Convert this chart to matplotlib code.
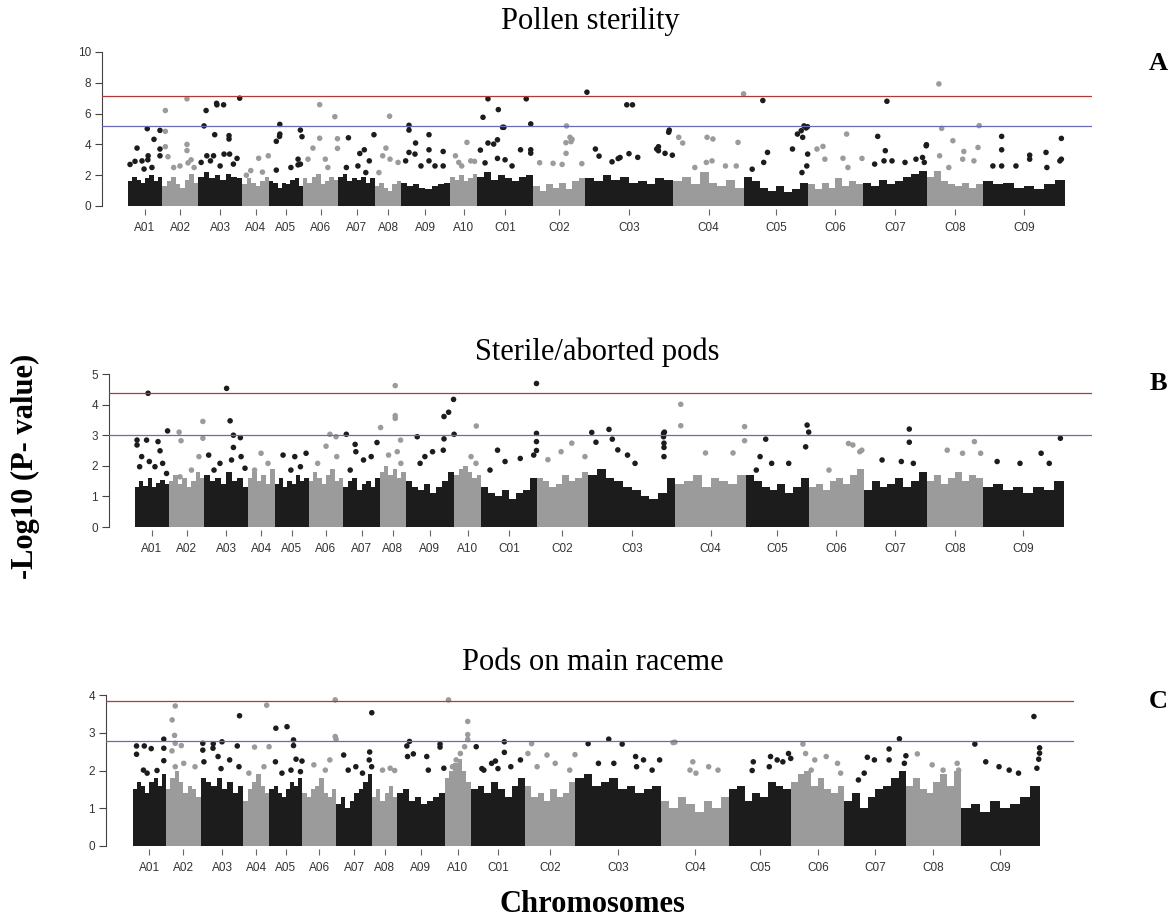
import matplotlib
matplotlib.use('Agg')
import matplotlib.pyplot as plt
import numpy as np

# Brassica napus chromosomes and their lengths (Mb)
chroms = ['A01', 'A02', 'A03', 'A04', 'A05', 'A06', 'A07', 'A08', 'A09', 'A10',
          'C01', 'C02', 'C03', 'C04', 'C05', 'C06', 'C07', 'C08', 'C09']
chrom_len = [23.3, 24.7, 30.1, 18.5, 23.3, 24.0, 25.3, 17.8, 33.6, 18.5,
             38.4, 35.6, 60.3, 48.6, 43.8, 37.7, 43.8, 38.4, 56.2]

# upper edge of the dense SNP cloud, several windows per chromosome
band_pollen = [
    [1.6, 1.9, 1.7, 1.5, 1.8, 2.0, 1.6, 1.9], [1.3, 1.6, 1.9, 1.4, 1.2, 1.7, 2.1, 1.5],
    [1.9, 2.2, 1.8, 2.0, 1.7, 2.1, 1.9, 1.8], [1.4, 1.8, 1.5, 1.3, 1.6, 1.9],
    [1.6, 1.5, 1.2, 1.5, 1.4, 1.7, 1.8, 1.3], [1.8, 1.5, 1.9, 2.1, 1.4, 1.6, 1.9, 1.7],
    [1.9, 2.1, 1.6, 1.8, 1.7, 1.9, 1.5, 1.8], [1.3, 1.5, 1.2, 1.0, 1.4, 1.6],
    [1.5, 1.3, 1.4, 1.2, 1.1, 1.3, 1.4, 1.5], [1.9, 1.7, 2.0, 1.6, 1.8, 2.1],
    [1.9, 2.2, 1.7, 2.0, 1.8, 1.6, 1.9, 2.0], [1.3, 1.0, 1.4, 1.2, 1.5, 1.1, 1.6, 1.8],
    [1.8, 1.6, 2.0, 1.7, 1.9, 1.5, 1.6, 1.4, 1.8, 1.7], [1.6, 1.9, 1.4, 2.2, 1.5, 1.3, 1.7, 1.2],
    [1.9, 1.6, 1.2, 1.0, 1.3, 0.9, 1.1, 1.5], [1.4, 1.1, 1.5, 1.2, 1.8, 1.3, 1.6, 1.4],
    [1.5, 1.3, 1.7, 1.4, 1.6, 1.9, 2.1, 2.3], [1.9, 2.3, 1.6, 1.4, 1.3, 1.5, 1.2, 1.4],
    [1.6, 1.4, 1.5, 1.2, 1.3, 1.1, 1.4, 1.7],
]
band_aborted = [
    [1.3, 1.5, 1.35, 1.6, 1.3, 1.45, 1.55, 1.4], [1.5, 1.7, 1.4, 1.6, 1.3, 1.5, 1.8, 1.6],
    [1.7, 1.5, 1.6, 1.4, 1.8, 1.5, 1.6, 1.3], [1.6, 1.8, 1.5, 1.7, 1.4, 1.9],
    [1.4, 1.6, 1.3, 1.5, 1.4, 1.7, 1.5, 1.6], [1.5, 1.8, 1.6, 1.4, 1.7, 1.9, 1.5, 1.6],
    [1.3, 1.5, 1.6, 1.2, 1.4, 1.5, 1.3, 1.6], [1.8, 2.0, 1.7, 1.9, 1.6, 1.8],
    [1.5, 1.3, 1.2, 1.4, 1.1, 1.3, 1.5, 1.8], [1.7, 1.9, 2.0, 1.8, 1.6, 1.7],
    [1.3, 1.1, 1.0, 1.2, 0.9, 1.1, 1.2, 1.6], [1.6, 1.5, 1.3, 1.4, 1.7, 1.5, 1.6, 1.8],
    [1.7, 1.9, 1.6, 1.5, 1.3, 1.2, 1.0, 0.9, 1.1, 1.6], [1.4, 1.5, 1.7, 1.3, 1.6, 1.5, 1.4, 1.7],
    [1.7, 1.5, 1.3, 1.2, 1.4, 1.1, 1.3, 1.6], [1.3, 1.4, 1.2, 1.5, 1.6, 1.4, 1.7, 1.9],
    [1.2, 1.5, 1.3, 1.4, 1.6, 1.3, 1.5, 1.8], [1.5, 1.7, 1.4, 1.6, 1.8, 1.5, 1.7, 1.6],
    [1.3, 1.4, 1.2, 1.3, 1.1, 1.3, 1.2, 1.5],
]
band_raceme = [
    [1.5, 1.7, 1.6, 1.4, 1.7, 1.8, 1.6, 1.9], [1.5, 1.8, 2.0, 1.7, 1.4, 1.6, 1.5, 1.3],
    [1.8, 1.7, 1.6, 1.8, 1.5, 1.7, 1.4, 1.6], [1.2, 1.5, 1.7, 1.9, 1.6, 1.4],
    [1.5, 1.6, 1.4, 1.3, 1.5, 1.7, 1.6, 1.8], [1.4, 1.3, 1.5, 1.6, 1.8, 1.4, 1.3, 1.5],
    [1.1, 1.3, 1.0, 1.2, 1.4, 1.5, 1.7, 1.9], [1.3, 1.5, 1.2, 1.4, 1.6, 1.3],
    [1.4, 1.5, 1.2, 1.3, 1.1, 1.2, 1.3, 1.4], [1.8, 2.0, 2.2, 2.3, 2.0, 1.7],
    [1.5, 1.6, 1.4, 1.7, 1.5, 1.3, 1.6, 1.8], [1.6, 1.3, 1.4, 1.2, 1.5, 1.3, 1.4, 1.7],
    [1.8, 1.9, 1.6, 1.7, 1.8, 1.5, 1.6, 1.4, 1.5, 1.6], [1.2, 1.0, 1.3, 1.1, 0.9, 1.2, 1.0, 1.3],
    [1.5, 1.6, 1.2, 1.4, 1.3, 1.7, 1.6, 1.5], [1.7, 1.9, 2.0, 1.6, 1.8, 1.5, 1.4, 1.6],
    [1.2, 1.4, 1.0, 1.3, 1.5, 1.6, 1.8, 2.0], [1.6, 1.8, 1.5, 1.4, 1.7, 1.9, 1.6, 2.0],
    [1.0, 1.1, 0.9, 1.2, 1.0, 1.1, 1.3, 1.6],
]

# SNPs standing out above the cloud: (chromosome, position Mb, -log10 p)
hits_pollen = [
    ('A01', 1.4, 2.7), ('A01', 4.8, 2.9), ('A01', 6.2, 3.76), ('A01', 9.6, 2.93), ('A01', 11.0, 2.4),
    ('A01', 13.2, 5.02), ('A01', 13.6, 3.0), ('A01', 13.8, 3.26), ('A01', 16.4, 2.5), ('A01', 17.8, 4.33),
    ('A01', 21.9, 4.91), ('A01', 21.9, 3.7), ('A01', 21.9, 3.26),
    ('A02', 2.3, 6.2), ('A02', 2.3, 4.85), ('A02', 2.3, 3.85), ('A02', 4.1, 3.2), ('A02', 8.0, 2.5),
    ('A02', 12.3, 2.6), ('A02', 17.1, 6.96), ('A02', 17.1, 4.0), ('A02', 17.1, 3.6), ('A02', 17.8, 2.8),
    ('A02', 19.9, 3.0), ('A02', 22.0, 2.5),
    ('A03', 2.1, 2.83), ('A03', 4.1, 5.2), ('A03', 5.5, 6.2), ('A03', 6.0, 3.26), ('A03', 8.5, 2.93),
    ('A03', 10.6, 3.26), ('A03', 11.4, 4.63), ('A03', 12.7, 6.67), ('A03', 12.9, 6.57), ('A03', 15.1, 2.6),
    ('A03', 17.5, 6.57), ('A03', 17.8, 3.37), ('A03', 21.2, 4.57), ('A03', 21.2, 4.35), ('A03', 21.6, 3.37),
    ('A03', 24.2, 2.72), ('A03', 26.7, 3.09), ('A03', 28.5, 7.0),
    ('A04', 3.0, 2.0), ('A04', 6.0, 2.3), ('A04', 11.4, 3.1), ('A04', 14.0, 2.2), ('A04', 18.0, 3.26),
    ('A05', 5.0, 4.2), ('A05', 5.0, 2.33), ('A05', 7.2, 4.52), ('A05', 7.4, 4.67), ('A05', 7.4, 5.3),
    ('A05', 15.0, 2.5), ('A05', 19.9, 3.04), ('A05', 19.9, 2.67), ('A05', 21.5, 4.93), ('A05', 21.5, 2.72),
    ('A05', 22.6, 4.5),
    ('A06', 3.4, 3.04), ('A06', 6.8, 3.76), ('A06', 11.4, 6.58), ('A06', 11.4, 4.4), ('A06', 15.3, 3.04),
    ('A06', 17.0, 2.5), ('A06', 21.8, 5.8), ('A06', 23.6, 4.37), ('A06', 23.6, 3.74),
    ('A07', 5.7, 2.5), ('A07', 7.1, 4.43), ('A07', 13.6, 2.6), ('A07', 14.9, 3.41), ('A07', 18.0, 3.65),
    ('A07', 19.0, 2.17), ('A07', 21.4, 2.93), ('A07', 24.6, 4.63),
    ('A08', 2.7, 2.17), ('A08', 5.3, 3.26), ('A08', 7.5, 3.76), ('A08', 10.0, 5.83), ('A08', 10.3, 3.04),
    ('A08', 15.8, 2.83),
    ('A09', 3.2, 2.93), ('A09', 5.5, 5.24), ('A09', 5.5, 4.93), ('A09', 5.5, 3.48), ('A09', 9.6, 3.37),
    ('A09', 10.0, 4.09), ('A09', 13.7, 2.6), ('A09', 19.2, 4.63), ('A09', 19.2, 3.65), ('A09', 19.2, 2.93),
    ('A09', 23.3, 2.6), ('A09', 28.9, 3.54), ('A09', 28.9, 2.6),
    ('A10', 3.7, 3.26), ('A10', 6.0, 2.83), ('A10', 8.0, 2.6), ('A10', 11.6, 4.13), ('A10', 14.2, 2.93),
    ('A10', 16.8, 2.9),
    ('C01', 2.3, 3.63), ('C01', 4.1, 5.76), ('C01', 5.5, 2.8), ('C01', 7.5, 6.96), ('C01', 7.5, 4.09),
    ('C01', 11.4, 4.02), ('C01', 14.0, 4.3), ('C01', 14.0, 3.09), ('C01', 14.6, 6.26), ('C01', 17.5, 5.11),
    ('C01', 18.4, 5.11), ('C01', 19.2, 3.0), ('C01', 24.0, 2.6), ('C01', 29.8, 3.65), ('C01', 33.7, 6.96),
    ('C01', 36.8, 5.33), ('C01', 36.8, 3.65), ('C01', 36.8, 3.43),
    ('C02', 4.5, 2.81), ('C02', 13.7, 2.77), ('C02', 19.9, 2.7), ('C02', 22.6, 3.42), ('C02', 22.9, 5.2),
    ('C02', 22.5, 4.11), ('C02', 25.3, 4.46), ('C02', 26.0, 4.18), ('C02', 26.7, 4.33), ('C02', 33.4, 2.75),
    ('C03', 1.3, 7.39), ('C03', 7.1, 3.7), ('C03', 9.6, 3.24), ('C03', 18.5, 2.87), ('C03', 22.7, 3.08),
    ('C03', 24.0, 3.15), ('C03', 28.6, 6.57), ('C03', 30.1, 3.4), ('C03', 32.5, 6.57), ('C03', 36.1, 3.16),
    ('C03', 49.1, 3.7), ('C03', 50.3, 3.85), ('C03', 50.3, 3.59), ('C03', 54.8, 3.42), ('C03', 57.3, 4.79),
    ('C03', 57.7, 4.93), ('C03', 59.8, 3.3),
    ('C04', 3.9, 4.46), ('C04', 6.6, 4.09), ('C04', 14.9, 2.5), ('C04', 22.8, 2.83), ('C04', 23.3, 4.46),
    ('C04', 26.7, 2.93), ('C04', 27.3, 4.35), ('C04', 35.9, 2.6), ('C04', 43.3, 2.6), ('C04', 44.5, 4.13),
    ('C04', 48.3, 7.28),
    ('C05', 5.6, 2.39), ('C05', 12.9, 6.85), ('C05', 13.5, 2.83), ('C05', 16.1, 3.48), ('C05', 33.2, 3.7),
    ('C05', 36.6, 4.67), ('C05', 39.2, 4.89), ('C05', 39.7, 2.17), ('C05', 40.2, 4.46), ('C05', 41.1, 5.2),
    ('C05', 42.5, 5.07), ('C05', 43.0, 2.6), ('C05', 43.5, 5.15), ('C05', 43.6, 3.37),
    ('C06', 6.2, 3.7), ('C06', 10.3, 3.87), ('C06', 11.6, 3.04), ('C06', 24.0, 3.1), ('C06', 26.5, 4.67),
    ('C06', 27.4, 2.5), ('C06', 37.0, 3.09),
    ('C07', 8.0, 2.72), ('C07', 10.1, 4.52), ('C07', 14.4, 2.93), ('C07', 15.3, 3.59), ('C07', 16.4, 6.8),
    ('C07', 19.9, 2.93), ('C07', 28.8, 2.83), ('C07', 36.3, 3.04), ('C07', 40.8, 3.15), ('C07', 42.0, 2.83),
    ('C07', 43.3, 3.91), ('C07', 43.5, 3.98),
    ('C08', 8.2, 7.93), ('C08', 8.7, 3.26), ('C08', 10.1, 5.04), ('C08', 15.0, 2.5), ('C08', 17.8, 4.24),
    ('C08', 24.5, 3.04), ('C08', 25.3, 3.54), ('C08', 32.2, 2.93), ('C08', 35.0, 3.8), ('C08', 35.8, 5.22),
    ('C09', 6.8, 2.6), ('C09', 12.8, 4.52), ('C09', 12.8, 3.65), ('C09', 12.8, 2.6), ('C09', 22.6, 2.6),
    ('C09', 32.0, 3.3), ('C09', 32.0, 3.04), ('C09', 43.2, 3.48), ('C09', 43.8, 2.5), ('C09', 52.7, 2.93),
    ('C09', 53.7, 4.39), ('C09', 53.7, 3.04),
]
hits_aborted = [
    ('A01', 1.4, 2.84), ('A01', 1.4, 2.68), ('A01', 3.2, 1.97), ('A01', 4.6, 2.3), ('A01', 8.0, 2.84),
    ('A01', 9.05, 4.37), ('A01', 9.9, 2.14), ('A01', 13.8, 1.97), ('A01', 15.9, 2.79), ('A01', 17.3, 2.49),
    ('A01', 19.1, 2.08), ('A01', 21.8, 1.75), ('A01', 22.5, 3.14),
    ('A02', 7.2, 3.1), ('A02', 7.8, 1.64), ('A02', 8.5, 2.82), ('A02', 15.7, 1.86), ('A02', 20.9, 2.3),
    ('A02', 23.6, 3.45), ('A02', 23.6, 2.9),
    ('A03', 2.9, 2.35), ('A03', 6.6, 1.86), ('A03', 10.7, 2.08), ('A03', 15.3, 4.53), ('A03', 17.7, 3.47),
    ('A03', 18.7, 2.19), ('A03', 20.0, 3.0), ('A03', 20.0, 2.6), ('A03', 24.8, 2.92), ('A03', 25.3, 2.3),
    ('A03', 28.0, 1.92),
    ('A04', 4.5, 1.86), ('A04', 9.0, 2.41), ('A04', 13.8, 2.08),
    ('A05', 5.7, 2.35), ('A05', 11.1, 1.86), ('A05', 13.8, 2.3), ('A05', 17.7, 1.97), ('A05', 21.6, 2.41),
    ('A06', 6.3, 2.08), ('A06', 12.1, 2.64), ('A06', 14.8, 3.03), ('A06', 19.0, 2.95), ('A06', 19.5, 2.3),
    ('A07', 2.1, 3.03), ('A07', 4.8, 1.86), ('A07', 8.2, 2.7), ('A07', 8.7, 2.46), ('A07', 14.0, 2.19),
    ('A07', 19.3, 2.3), ('A07', 23.3, 2.76),
    ('A08', 0.5, 3.25), ('A08', 6.0, 2.35), ('A08', 10.6, 4.62), ('A08', 10.6, 3.64), ('A08', 10.6, 3.55),
    ('A08', 12.0, 2.46), ('A08', 14.3, 2.84), ('A08', 14.5, 2.08),
    ('A09', 8.0, 2.95), ('A09', 10.0, 2.08), ('A09', 13.3, 2.3), ('A09', 18.6, 2.46), ('A09', 26.0, 2.51),
    ('A09', 26.5, 3.61), ('A09', 26.5, 2.88), ('A09', 29.7, 3.75), ('A09', 33.1, 4.17), ('A09', 33.5, 3.03),
    ('A10', 11.6, 2.3), ('A10', 15.0, 2.08), ('A10', 15.2, 3.3),
    ('C01', 6.2, 1.86), ('C01', 11.4, 2.51), ('C01', 16.6, 2.14), ('C01', 27.1, 2.24), ('C01', 36.4, 2.35),
    ('C01', 38.3, 4.69), ('C01', 38.3, 3.06), ('C01', 38.3, 2.79), ('C01', 38.3, 2.5),
    ('C02', 7.8, 2.2), ('C02', 16.9, 2.46), ('C02', 24.3, 2.74), ('C02', 33.4, 2.3),
    ('C03', 2.5, 3.09), ('C03', 5.4, 2.77), ('C03', 14.4, 3.19), ('C03', 16.7, 2.87), ('C03', 20.5, 2.52),
    ('C03', 27.2, 2.35), ('C03', 32.4, 2.08), ('C03', 52.1, 3.06), ('C03', 52.1, 2.95), ('C03', 52.4, 2.74),
    ('C03', 52.4, 2.6), ('C03', 52.4, 2.3), ('C03', 52.7, 3.1),
    ('C04', 3.7, 4.01), ('C04', 3.7, 3.31), ('C04', 20.8, 2.42), ('C04', 39.8, 2.42), ('C04', 47.8, 3.28),
    ('C04', 47.8, 2.82),
    ('C05', 7.3, 1.86), ('C05', 9.9, 2.3), ('C05', 13.8, 2.87), ('C05', 17.9, 2.08), ('C05', 29.7, 2.08),
    ('C05', 41.4, 2.62), ('C05', 42.4, 3.33), ('C05', 43.5, 3.1),
    ('C06', 13.7, 1.86), ('C06', 27.2, 2.73), ('C06', 30.2, 2.68), ('C06', 35.0, 2.46), ('C06', 36.4, 2.51),
    ('C07', 12.7, 2.19), ('C07', 26.0, 2.14), ('C07', 31.5, 3.2), ('C07', 31.5, 2.77), ('C07', 34.3, 2.08),
    ('C08', 13.9, 2.51), ('C08', 24.5, 2.41), ('C08', 32.7, 2.79), ('C08', 37.0, 2.41),
    ('C09', 10.0, 2.14), ('C09', 25.8, 2.08), ('C09', 40.4, 2.41), ('C09', 46.0, 2.08), ('C09', 53.7, 2.9),
]
hits_raceme = [
    ('A01', 2.5, 2.65), ('A01', 2.5, 2.43), ('A01', 7.4, 2.01), ('A01', 8.0, 2.65), ('A01', 10.0, 1.93),
    ('A01', 12.9, 2.58), ('A01', 17.0, 2.0), ('A01', 21.8, 2.83), ('A01', 21.8, 2.59), ('A01', 21.8, 2.26),
    ('A02', 4.3, 2.52), ('A02', 4.4, 3.34), ('A02', 6.1, 2.93), ('A02', 6.6, 3.71), ('A02', 6.6, 2.72),
    ('A02', 6.6, 2.1), ('A02', 10.9, 2.66), ('A02', 12.6, 2.19), ('A02', 20.6, 2.1),
    ('A03', 1.4, 2.72), ('A03', 1.4, 2.54), ('A03', 2.2, 2.23), ('A03', 8.6, 2.59), ('A03', 8.8, 2.71),
    ('A03', 12.2, 2.37), ('A03', 14.3, 2.05), ('A03', 15.0, 2.76), ('A03', 20.4, 2.28), ('A03', 25.8, 2.65),
    ('A03', 27.0, 2.1), ('A03', 27.4, 3.45),
    ('A04', 3.9, 1.93), ('A04', 7.9, 2.62), ('A04', 14.6, 2.1), ('A04', 16.5, 3.73), ('A04', 18.2, 2.63),
    ('A05', 4.2, 2.23), ('A05', 4.5, 3.12), ('A05', 8.8, 1.93), ('A05', 12.4, 3.16), ('A05', 15.2, 2.01),
    ('A05', 17.0, 2.81), ('A05', 17.0, 2.66), ('A05', 18.8, 2.3), ('A05', 21.9, 1.97), ('A05', 23.0, 2.25),
    ('A06', 8.1, 2.15), ('A06', 16.2, 2.01), ('A06', 19.4, 2.28), ('A06', 23.2, 3.87), ('A06', 23.2, 2.9),
    ('A06', 23.8, 2.83),
    ('A07', 5.2, 2.41), ('A07', 8.4, 2.01), ('A07', 13.8, 2.1), ('A07', 18.5, 1.93), ('A07', 23.3, 2.28),
    ('A07', 23.6, 2.49), ('A07', 25.0, 2.1), ('A07', 25.1, 3.53),
    ('A08', 7.4, 2.01), ('A08', 12.8, 2.06), ('A08', 16.0, 2.0),
    ('A09', 6.8, 2.65), ('A09', 7.3, 2.37), ('A09', 8.7, 2.77), ('A09', 11.4, 2.44), ('A09', 20.9, 2.37),
    ('A09', 22.0, 2.01), ('A09', 30.3, 2.7), ('A09', 30.3, 2.62), ('A09', 33.0, 2.06),
    ('A10', 2.7, 3.87), ('A10', 5.5, 2.1), ('A10', 8.1, 2.28), ('A10', 11.1, 2.45), ('A10', 14.1, 2.63),
    ('A10', 16.3, 3.3), ('A10', 16.3, 2.95), ('A10', 16.3, 2.82),
    ('C01', 3.8, 2.63), ('C01', 7.8, 2.05), ('C01', 9.2, 2.01), ('C01', 14.7, 2.19), ('C01', 17.4, 2.25),
    ('C01', 19.2, 2.05), ('C01', 23.7, 2.76), ('C01', 23.7, 2.48), ('C01', 28.3, 2.1), ('C01', 35.1, 2.28),
    ('C02', 2.0, 2.45), ('C02', 4.6, 2.71), ('C02', 8.5, 2.1), ('C02', 15.5, 2.41), ('C02', 21.3, 2.19),
    ('C02', 31.6, 2.01), ('C02', 35.3, 2.42),
    ('C03', 9.0, 2.71), ('C03', 16.3, 2.19), ('C03', 23.6, 2.83), ('C03', 27.2, 2.19), ('C03', 33.1, 2.7),
    ('C03', 42.6, 2.37), ('C03', 43.3, 2.1), ('C03', 48.2, 2.28), ('C03', 54.3, 2.01), ('C03', 59.6, 2.28),
    ('C04', 8.8, 2.74), ('C04', 10.1, 2.75), ('C04', 20.8, 2.01), ('C04', 22.8, 2.23), ('C04', 25.0, 1.93),
    ('C04', 34.0, 2.1), ('C04', 40.6, 2.01),
    ('C05', 16.2, 2.0), ('C05', 17.0, 2.23), ('C05', 28.3, 2.1), ('C05', 29.2, 2.37), ('C05', 33.9, 2.28),
    ('C05', 37.9, 2.23), ('C05', 41.9, 2.45), ('C05', 43.5, 2.32),
    ('C06', 8.3, 2.7), ('C06', 10.2, 2.45), ('C06', 14.2, 2.01), ('C06', 16.7, 2.28), ('C06', 24.8, 2.37),
    ('C06', 32.8, 2.19), ('C06', 35.0, 1.93),
    ('C07', 9.9, 1.75), ('C07', 14.0, 1.93), ('C07', 16.2, 2.35), ('C07', 21.2, 2.28), ('C07', 31.6, 2.57),
    ('C07', 31.6, 2.28), ('C07', 38.9, 2.84), ('C07', 42.4, 2.19), ('C07', 43.5, 2.39),
    ('C08', 7.8, 2.44), ('C08', 18.3, 2.15), ('C08', 26.0, 2.01), ('C08', 36.0, 2.19), ('C08', 37.0, 2.01),
    ('C09', 10.1, 2.7), ('C09', 17.8, 2.23), ('C09', 27.2, 2.1), ('C09', 34.4, 2.01), ('C09', 41.0, 1.93),
    ('C09', 51.9, 3.43), ('C09', 54.0, 2.06), ('C09', 55.3, 2.3), ('C09', 55.9, 2.6), ('C09', 55.9, 2.46),
]

# (upper, lower) significance thresholds
thr_pollen = (7.17, 5.2)
thr_aborted = (4.37, 3.0)
thr_raceme = (3.85, 2.77)

DARK = '#1c1c1c'
LIGHT = '#9b9b9b'
W, H = 1172, 923

serif = ['Liberation Serif', 'DejaVu Serif']
plt.rcParams['font.family'] = ['Liberation Sans', 'DejaVu Sans']

fig = plt.figure(figsize=(W / 100, H / 100), dpi=100)

offsets = np.concatenate([[0.0], np.cumsum(chrom_len)[:-1]])
total = float(np.sum(chrom_len))
chrom_idx = {c: i for i, c in enumerate(chroms)}


def manhattan(frame, ymax, band, hits, thr):
    # frame: y-axis x, first/last SNP x, right edge, y of 0, y of ymax (pixels)
    spine_x, data_l, data_r, right_x, y0, ytop = frame
    ppm = (data_r - data_l) / total
    ppu = (y0 - ytop) / ymax
    bottom_px, top_px = y0 + 2.5, ytop - 3
    ax = fig.add_axes([spine_x / W, 1 - bottom_px / H,
                       (right_x - spine_x) / W, (bottom_px - top_px) / H])
    ax.set_xlim(-(data_l - spine_x) / ppm, total + (right_x - data_r) / ppm)
    ax.set_ylim(-2.5 / ppu, ymax + 3 / ppu)

    for i, env in enumerate(band):
        col = DARK if i % 2 == 0 else LIGHT
        edges = offsets[i] + np.linspace(0, chrom_len[i], len(env) + 1)
        ax.stairs(env, edges, baseline=0, fill=True, color=col, lw=0, zorder=1)

    xs = np.array([offsets[chrom_idx[c]] + p for c, p, v in hits])
    ys = np.array([v for c, p, v in hits])
    cols = [DARK if chrom_idx[c] % 2 == 0 else LIGHT for c, p, v in hits]
    ax.scatter(xs, ys, s=16, c=cols, linewidths=0, zorder=2)

    ax.axhline(thr[0], color='#b03a3a', lw=0.9, zorder=3)
    ax.axhline(thr[1], color='#6a6ab8', lw=0.9, zorder=3)

    for side in ('top', 'right', 'bottom'):
        ax.spines[side].set_visible(False)
    ax.spines['left'].set_bounds(0, ymax)
    ax.spines['left'].set_color('#444444')
    ax.spines['left'].set_linewidth(0.8)
    ax.set_yticks(np.arange(0, ymax + 1, 2 if ymax > 5 else 1))
    ax.set_xticks(offsets + np.array(chrom_len) / 2, chroms)
    ax.tick_params(axis='y', length=5, width=0.8, color='#444444', pad=3,
                   labelsize=8.5, labelcolor='#333333')
    ax.tick_params(axis='x', length=4, width=0.8, color='#666666', pad=6,
                   labelsize=8.5, labelcolor='#333333')
    return ax


manhattan((102, 128, 1065, 1092, 206, 52), 10, band_pollen, hits_pollen, thr_pollen)
manhattan((109, 135, 1064, 1092, 527, 374), 5, band_aborted, hits_aborted, thr_aborted)
manhattan((106, 133, 1040, 1074, 846, 695), 4, band_raceme, hits_raceme, thr_raceme)

# panel titles and letters
fig.text(590 / W, 1 - 22 / H, 'Pollen sterility', family=serif, size=22,
         ha='center', va='center')
fig.text(597 / W, 1 - 352 / H, 'Sterile/aborted pods', family=serif, size=22,
         ha='center', va='center')
fig.text(593 / W, 1 - 663 / H, 'Pods on main raceme', family=serif, size=22,
         ha='center', va='center')
for letter, y in (('A', 63), ('B', 383), ('C', 702)):
    fig.text(1158 / W, 1 - y / H, letter, family=serif, size=19, weight='bold',
             ha='center', va='center')

fig.text(25 / W, 1 - 466 / H, '-Log10 (P- value)', family=serif, size=22,
         weight='bold', rotation=90, ha='center', va='center')
fig.text(592 / W, 1 - 905 / H, 'Chromosomes', family=serif, size=22,
         weight='bold', ha='center', va='center')

fig.savefig('out.png', dpi=100)
